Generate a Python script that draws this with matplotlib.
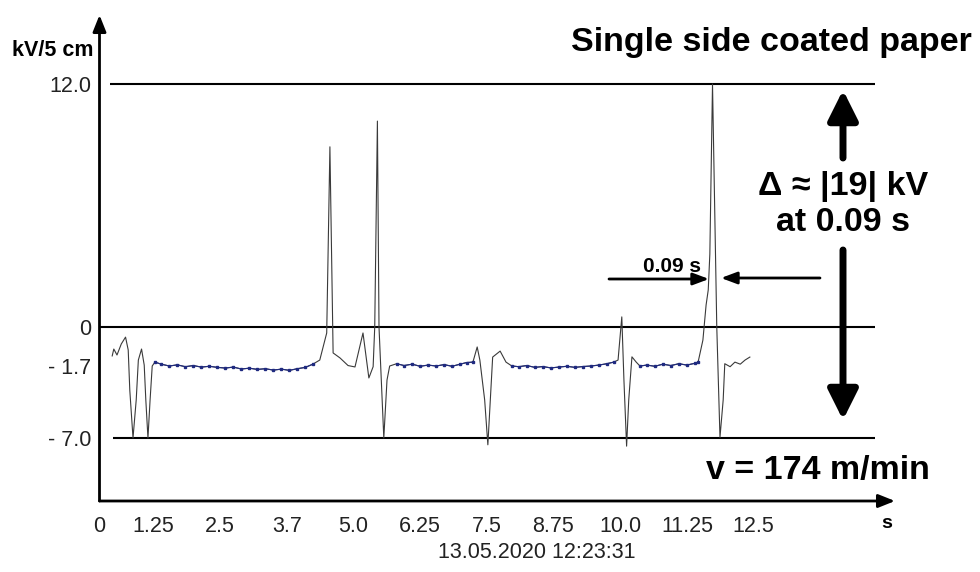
import numpy as np
import matplotlib
matplotlib.use('Agg')
import matplotlib.pyplot as plt

plt.rcParams['font.family'] = ['Liberation Sans', 'DejaVu Sans']

# electrostatic field trace
time_s = [
    0.48, 0.51, 0.57, 0.65, 0.73, 0.78, 0.81, 0.87, 0.93, 0.97, 1.03, 1.08,
    1.11, 1.15, 1.19, 1.23, 1.28,
    1.40, 1.55, 1.70, 1.85, 2.00, 2.15, 2.30, 2.45, 2.60, 2.75, 2.90, 3.05,
    3.20, 3.35, 3.50, 3.65, 3.80, 3.95, 4.10, 4.24,
    4.37, 4.50, 4.56, 4.62, 4.75, 4.90, 5.03, 5.18, 5.29, 5.37, 5.40, 5.45,
    5.48, 5.57, 5.63, 5.68, 5.81,
    5.95, 6.10, 6.25, 6.40, 6.55, 6.70, 6.85, 7.00, 7.12, 7.24,
    7.32, 7.37, 7.46, 7.52, 7.61, 7.75, 7.86, 7.97,
    8.10, 8.25, 8.40, 8.55, 8.70, 8.85, 9.00, 9.15, 9.30, 9.45, 9.60, 9.75,
    9.88,
    9.96, 10.03, 10.07, 10.12, 10.16, 10.22, 10.30, 10.37,
    10.50, 10.65, 10.80, 10.95, 11.10, 11.25, 11.40, 11.46,
    11.55, 11.61, 11.65, 11.68, 11.73, 11.81, 11.87, 11.93, 11.96, 12.06,
    12.15, 12.25, 12.34, 12.43,
]
voltage_kv = [
    -1.26, -0.96, -1.22, -0.74, -0.44, -1.00, -3.50, -7.00, -4.20, -1.44,
    -0.96, -1.66, -4.20, -7.00, -4.20, -1.70, -1.53,
    -1.62, -1.70, -1.65, -1.75, -1.68, -1.78, -1.72, -1.80, -1.85, -1.78,
    -1.92, -1.86, -1.95, -1.90, -2.00, -1.93, -2.02, -1.90, -1.80, -1.62,
    -1.44, -0.26, 8.90, -1.13, -1.35, -1.68, -1.77, -0.26, -2.58, -1.75,
    0.00, 10.17, 0.00, -7.00, -2.73, -1.70, -1.60,
    -1.68, -1.62, -1.72, -1.66, -1.70, -1.64, -1.72, -1.62, -1.55, -1.53,
    -0.87, -1.44, -4.19, -7.50, -1.31, -1.05, -1.53, -1.70,
    -1.75, -1.68, -1.80, -1.74, -1.84, -1.78, -1.72, -1.80, -1.74, -1.70,
    -1.66, -1.60, -1.53,
    -1.44, 0.50, -2.73, -7.60, -4.20, -1.30, -1.53, -1.70,
    -1.66, -1.72, -1.62, -1.68, -1.60, -1.66, -1.58, -1.53,
    -0.57, 1.09, 1.83, 3.60, 12.00, 0.00, -6.95, -4.20, -1.60, -1.75,
    -1.53, -1.62, -1.44, -1.31,
]
# quiet stretches between the discharges (drawn in blue on the print)
baseline_spans = [(1.28, 4.24), (5.81, 7.24), (7.97, 9.88), (10.37, 11.46)]

level_kv = [12.0, 0.0, -7.0]
level_start_s = [0.44, 0.242, 0.495]
level_end_s = 14.77

ytick_kv = [12.0, 0.0, -1.7, -7.0]
ytick_labels = ['12.0', '0', '- 1.7', '- 7.0']
xtick_s = [1.25, 2.5, 3.75, 5.0, 6.25, 7.5, 8.75, 10.0, 11.25, 12.5]
xtick_labels = ['1.25', '2.5', '3.7', '5.0', '6.25', '7.5', '8.75', '10.0',
                '11.25', '12.5']

# the hand-drawn print is not linear in kV; piecewise scale between labels
kv_knots = [-40.0, -7.0, -1.7, 0.0, 12.0, 40.0]
u_knots = [-886.1, -438.0, -366.0, -327.0, -84.0, 483.0]


def fwd(v):
    return np.interp(v, kv_knots, u_knots)


def inv(u):
    return np.interp(u, u_knots, kv_knots)


def fp(x, y):
    return (x / 980, 1 - y / 572)


fig = plt.figure(figsize=(9.8, 5.72), dpi=100)
ax = fig.add_axes([99.5 / 980, 1 - 501 / 572, 795.5 / 980, 486 / 572])
ax.set_yscale('function', functions=(fwd, inv))
ax.set_xlim(0.242, 15.15)
ax.set_ylim(-11.64, 15.41)
for sp in ax.spines.values():
    sp.set_visible(False)

for lv, x0 in zip(level_kv, level_start_s):
    ax.hlines(lv, x0, level_end_s, color='black', lw=1.5)

t = np.array(time_s)
v = np.array(voltage_kv)
ax.plot(t, v, color='#3a3a3a', lw=0.8)
for a, b in baseline_spans:
    m = (t >= a) & (t <= b)
    ax.plot(t[m], v[m], color='#1f2a80', lw=0.8, marker='s', ms=1.6)

# axes drawn as arrows
arrow_axis = dict(arrowstyle='-|>,head_length=0.5,head_width=0.2', lw=2,
                  color='black', shrinkA=0, shrinkB=0, mutation_scale=20)
ax.annotate('', xy=(0, 1), xytext=(0, 0), xycoords='axes fraction',
            arrowprops=arrow_axis)
ax.annotate('', xy=(1, 0), xytext=(0, 0), xycoords='axes fraction',
            arrowprops=arrow_axis)

ax.set_xticks([0.242] + xtick_s, ['0'] + xtick_labels)
ax.set_xticks(xtick_s, minor=True)
ax.tick_params(axis='x', which='major', length=0, pad=11, labelsize=15.5,
               labelcolor='#222222')
ax.tick_params(axis='x', which='minor', direction='inout', length=18,
               width=1.5)
ax.set_yticks(ytick_kv, ytick_labels)
ax.set_yticks([-1.7], minor=True)
ax.tick_params(axis='y', which='major', length=0, pad=6, labelsize=15.5,
               labelcolor='#222222')
ax.tick_params(axis='y', which='minor', direction='inout', length=17,
               width=1.5)

fig.text(*fp(53, 50), 'kV/5 cm', ha='center', va='center',
         fontsize=15.5, fontweight='bold')
fig.text(*fp(972, 42), 'Single side coated paper', ha='right', va='center',
         fontsize=24.5, fontweight='bold')
fig.text(*fp(843, 186), 'Δ ≈ |19| kV', ha='center', va='center',
         fontsize=24.5, fontweight='bold')
fig.text(*fp(843, 223), 'at 0.09 s', ha='center', va='center',
         fontsize=24.5, fontweight='bold')
fig.text(*fp(818, 470), 'v = 174 m/min', ha='center', va='center',
         fontsize=24.5, fontweight='bold')
fig.text(*fp(672, 266), '0.09 s', ha='center', va='center',
         fontsize=15, fontweight='bold')
fig.text(*fp(887, 523), 's', ha='center', va='center',
         fontsize=14, fontweight='bold')
fig.text(*fp(537, 553), '13.05.2020 12:23:31', ha='center', va='center',
         fontsize=15.5, color='#222222')

big = dict(arrowstyle='-|>,head_length=0.9,head_width=0.45', lw=5,
           color='black', shrinkA=0, shrinkB=0, mutation_scale=20)
small = dict(arrowstyle='-|>,head_length=0.8,head_width=0.3', lw=2,
             color='black', shrinkA=0, shrinkB=0, mutation_scale=12)
ax.annotate('', xy=fp(843, 90), xytext=fp(843, 158),
            xycoords='figure fraction', arrowprops=big)
ax.annotate('', xy=fp(843, 420), xytext=fp(843, 250),
            xycoords='figure fraction', arrowprops=big)
ax.annotate('', xy=fp(709, 279), xytext=fp(609, 279),
            xycoords='figure fraction', arrowprops=small)
ax.annotate('', xy=fp(721, 278), xytext=fp(820, 278),
            xycoords='figure fraction', arrowprops=small)

fig.savefig('out.png', dpi=100)
